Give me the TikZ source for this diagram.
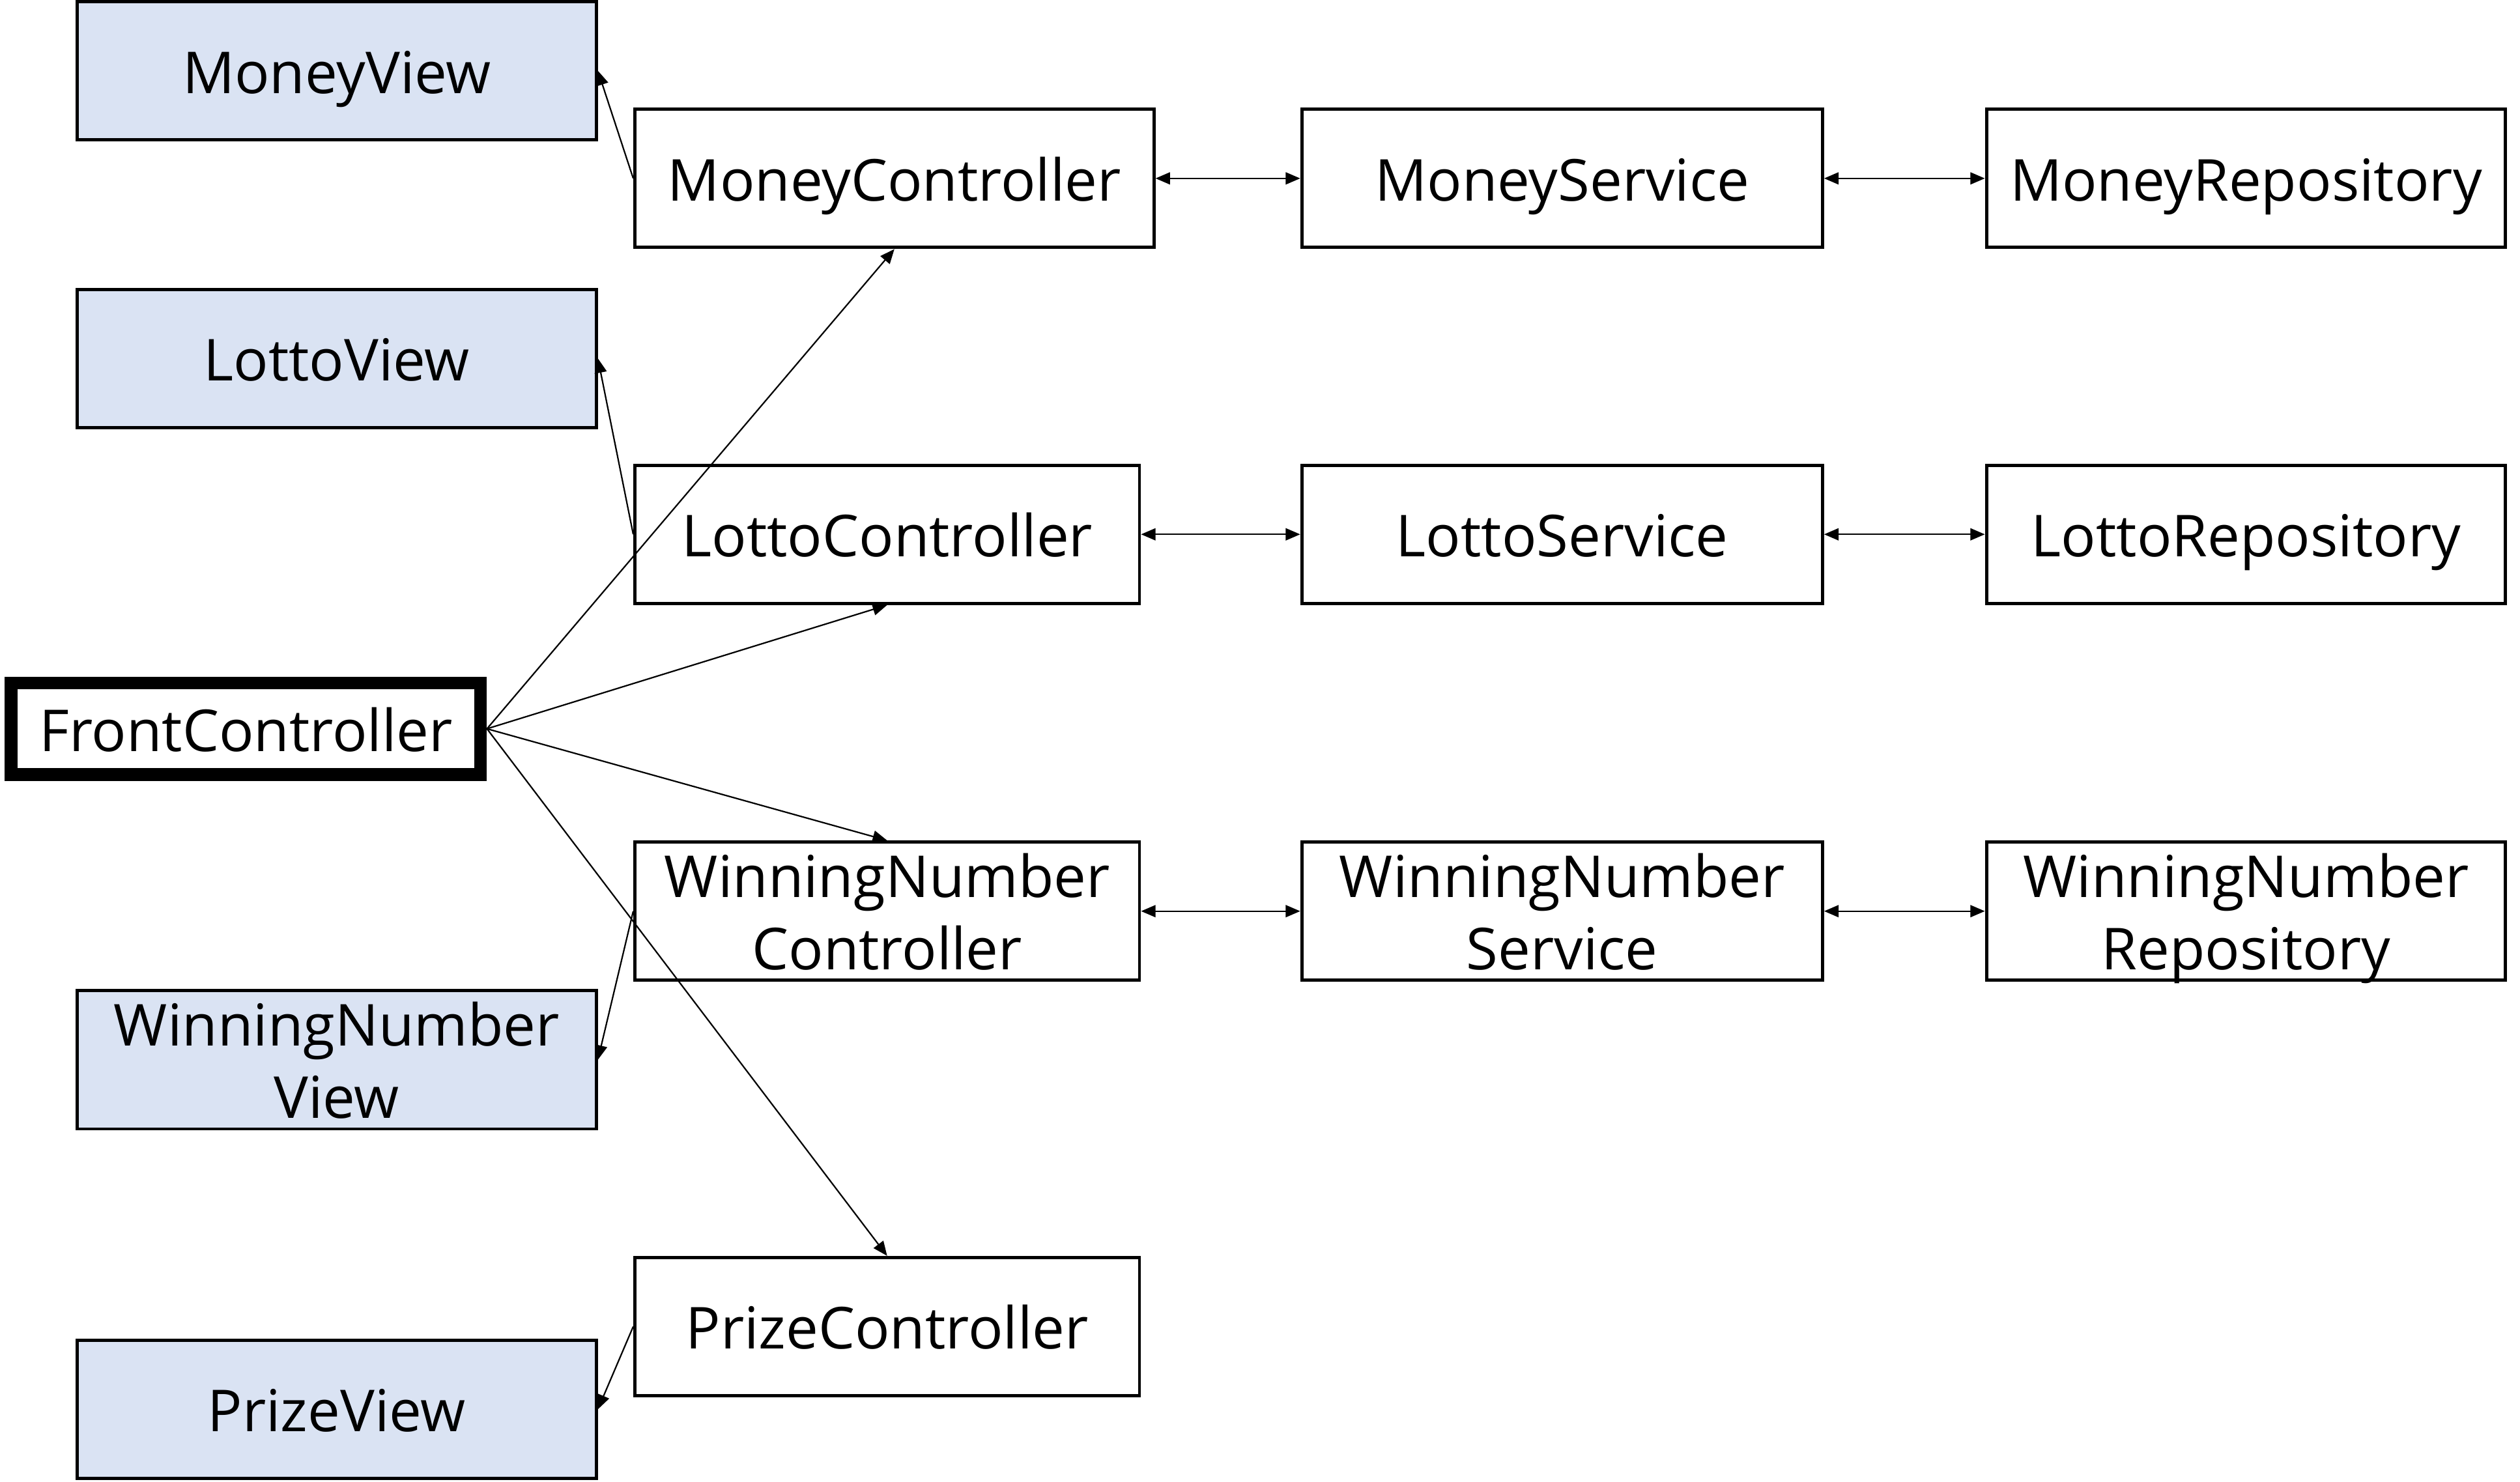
\documentclass[tikz,border=0pt]{standalone}
\usepackage{fontspec}
\setmainfont{Open Sans}
\usepackage{tikz}
\usetikzlibrary{arrows.meta,positioning}
\definecolor{viewFill}{RGB}{218,227,243}
\tikzset{
  box/.style={draw, line width=2pt, inner sep=0pt, align=center,
    font=\fontsize{36}{45}\selectfont, text height=30pt, text depth=2pt,
    minimum height=86pt},
  twoline/.style={text height=75pt},
  viewbox/.style={box, fill=viewFill, minimum width=323pt},
  ctrlbox/.style={box, minimum width=314pt},
  frontbox/.style={box, line width=8pt, minimum width=292pt, minimum height=57pt},
  link/.style={-{Triangle[length=9pt,width=7.5pt]}, line width=0.9pt},
  dlink/.style={{Triangle[length=9pt,width=7.5pt]}-{Triangle[length=9pt,width=7.5pt]}, line width=0.9pt},
}

\begin{document}
\begin{tikzpicture}[x=1pt, y=-1pt]
    \useasboundingbox (0,0) rectangle (1568,922);
    % views
    \node[viewbox] (moneyView) at (209.5,44) {MoneyView};
    \node[viewbox] (lottoView) at (209.5,223) {LottoView};
    \node[viewbox, twoline] (winView) at (209.5,659.5) {WinningNumber\\View};
    \node[viewbox] (prizeView) at (209.5,877) {PrizeView};
    % front controller
    \node[frontbox] (front) at (153,453.5) {FrontController};
    % controllers
    \node[ctrlbox, minimum width=323pt] (moneyCtrl) at (556.5,111) {MoneyController};
    \node[ctrlbox] (lottoCtrl) at (552,332.5) {LottoController};
    \node[ctrlbox, twoline] (winCtrl) at (552,567) {WinningNumber\\Controller};
    \node[ctrlbox] (prizeCtrl) at (552,825.5) {PrizeController};
    % services and repositories
    \foreach \nm/\y/\lab/\st in {money/111/MoneyService/box, lotto/332.5/LottoService/box, win/567/WinningNumber\\Service/twoline} {
      \node[box, \st, minimum width=324pt] (\nm Svc) at (972,\y) {\lab};
    }
    \foreach \nm/\y/\lab/\st in {money/111/MoneyRepository/box, lotto/332.5/LottoRepository/box, win/567/WinningNumber\\Repository/twoline} {
      \node[box, \st, minimum width=323pt] (\nm Repo) at (1397.5,\y) {\lab};
    }
    % connectors
    \draw[link] (front.east) -- (moneyCtrl.south);
    \draw[link] (front.east) -- (lottoCtrl.south);
    \draw[link] (front.east) -- (winCtrl.north);
    \draw[link] (front.east) -- (prizeCtrl.north);
    \draw[link] (moneyCtrl.west) -- (moneyView.east);
    \draw[link] (lottoCtrl.west) -- (lottoView.east);
    \draw[link] (winCtrl.west) -- (winView.east);
    \draw[link] (prizeCtrl.west) -- (prizeView.east);
    \foreach \nm in {money, lotto, win} {
      \draw[dlink] (\nm Ctrl.east) -- (\nm Svc.west);
      \draw[dlink] (\nm Svc.east) -- (\nm Repo.west);
    }
  \end{tikzpicture}
\end{document}
